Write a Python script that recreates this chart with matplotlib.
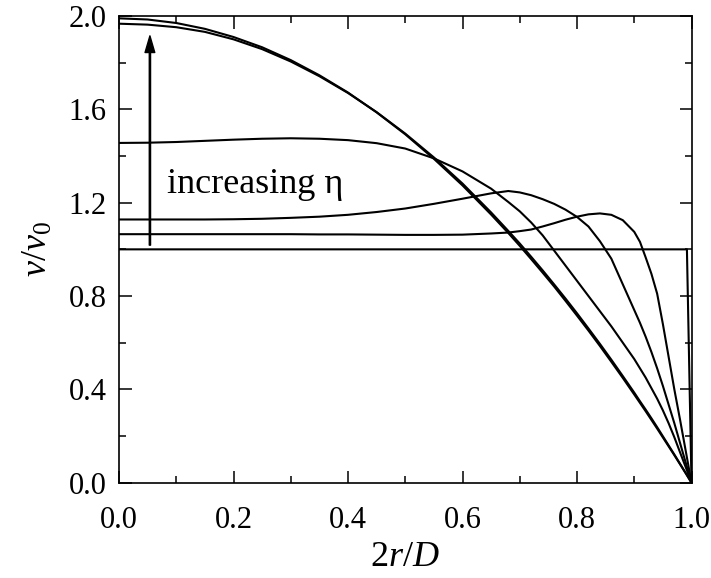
import matplotlib
matplotlib.use("Agg")
import matplotlib.pyplot as plt
from matplotlib.ticker import MultipleLocator

plt.rcParams['font.family'] = ['Liberation Serif', 'DejaVu Serif']
plt.rcParams['mathtext.fontset'] = 'custom'
plt.rcParams['mathtext.rm'] = 'Liberation Serif'
plt.rcParams['mathtext.it'] = 'Liberation Serif:italic'

# Radial positions 2r/D
x = [0, .05, .1, .15, .2, .25, .3, .35, .4, .45, .5, .55, .6, .65, .68, .7,
     .72, .74, .76, .78, .8, .82, .84, .86, .88, .9, .91, .92, .93, .94, .95,
     .96, .97, .98, .99, 1.0]

# Velocity profiles v/v0 (increasing eta from flat to parabolic)
plug_x = [0, 0.992, 1.0]
plug_y = [1.0, 1.0, 0.0]
c2 = [1.065, 1.065, 1.065, 1.065, 1.065, 1.065, 1.065, 1.064, 1.064, 1.063, 1.062,
      1.062, 1.063, 1.068, 1.072, 1.078,
      1.085, 1.098, 1.112, 1.127, 1.140, 1.150, 1.154, 1.148, 1.125, 1.075, 1.032,
      0.965, 0.895, 0.810, 0.680, 0.540, 0.400, 0.270, 0.135, 0]
c3 = [1.128, 1.128, 1.128, 1.128, 1.129, 1.131, 1.135, 1.140, 1.148, 1.160, 1.175,
      1.195, 1.217, 1.240, 1.250, 1.244,
      1.232, 1.215, 1.195, 1.170, 1.139, 1.098, 1.035, 0.960, 0.850, 0.740, 0.685,
      0.625, 0.560, 0.490, 0.415, 0.335, 0.255, 0.170, 0.085, 0]
c4 = [1.456, 1.457, 1.460, 1.465, 1.470, 1.474, 1.476, 1.474, 1.468, 1.455, 1.432,
      1.390, 1.334, 1.260, 1.203, 1.163,
      1.115, 1.060, 0.995, 0.930, 0.865, 0.800, 0.735, 0.670, 0.600, 0.530, 0.490,
      0.450, 0.405, 0.360, 0.310, 0.255, 0.195, 0.130, 0.066, 0]
c5 = [1.967, 1.963, 1.952, 1.932, 1.900, 1.858, 1.805, 1.742, 1.670, 1.588, 1.496,
      1.394, 1.282, 1.158, 1.079, 1.025,
      0.968, 0.910, 0.850, 0.789, 0.726, 0.661, 0.595, 0.527, 0.457, 0.386, 0.349,
      0.313, 0.276, 0.238, 0.199, 0.160, 0.121, 0.081, 0.041, 0]
c6 = [1.990, 1.985, 1.970, 1.945, 1.910, 1.866, 1.811, 1.746, 1.672, 1.587, 1.493,
      1.388, 1.274, 1.149, 1.070, 1.015,
      0.958, 0.900, 0.841, 0.779, 0.716, 0.652, 0.586, 0.518, 0.449, 0.378, 0.342,
      0.306, 0.269, 0.232, 0.194, 0.156, 0.118, 0.079, 0.040, 0]

x_ticks = [0.0, 0.2, 0.4, 0.6, 0.8, 1.0]
y_ticks = [0.0, 0.4, 0.8, 1.2, 1.6, 2.0]

fig = plt.figure(figsize=(7.11, 5.78), dpi=100)
ax = fig.add_axes([119 / 711, (578 - 482.7) / 578, 572.5 / 711, 466.7 / 578])

lw = 1.5
ax.plot(plug_x, plug_y, color='k', lw=lw)
for c in (c2, c3, c4, c5, c6):
    ax.plot(x, c, color='k', lw=lw, solid_joinstyle='round')

ax.annotate('', xy=(0.054, 1.915), xytext=(0.054, 1.018),
            arrowprops=dict(facecolor='k', edgecolor='k', width=0.9,
                            headwidth=7, headlength=12, shrink=0))
ax.text(0.083, 1.24, 'increasing η', fontsize=26, ha='left', va='baseline')

ax.set_xlim(0, 1)
ax.set_ylim(0, 2)
ax.set_xticks(x_ticks)
ax.set_yticks(y_ticks)
ax.set_xticklabels([f'{v:.1f}' for v in x_ticks])
ax.set_yticklabels([f'{v:.1f}' for v in y_ticks])
ax.xaxis.set_minor_locator(MultipleLocator(0.1))
ax.yaxis.set_minor_locator(MultipleLocator(0.2))
ax.tick_params(which='both', direction='in', top=True, right=True,
               labelsize=22, width=1.1)
ax.tick_params(axis='x', which='both', pad=17)
ax.tick_params(axis='y', which='both', pad=9)
ax.tick_params(which='major', length=9)
ax.tick_params(which='minor', length=5)
for s in ax.spines.values():
    s.set_linewidth(1.2)

ax.set_xlabel(r'$2\mathit{r}/\mathit{D}$', fontsize=26, labelpad=4)
ax.set_ylabel(r'$\mathit{v}/\mathit{v}_{0}$', fontsize=26, labelpad=10)

fig.savefig('out.png', dpi=100)
